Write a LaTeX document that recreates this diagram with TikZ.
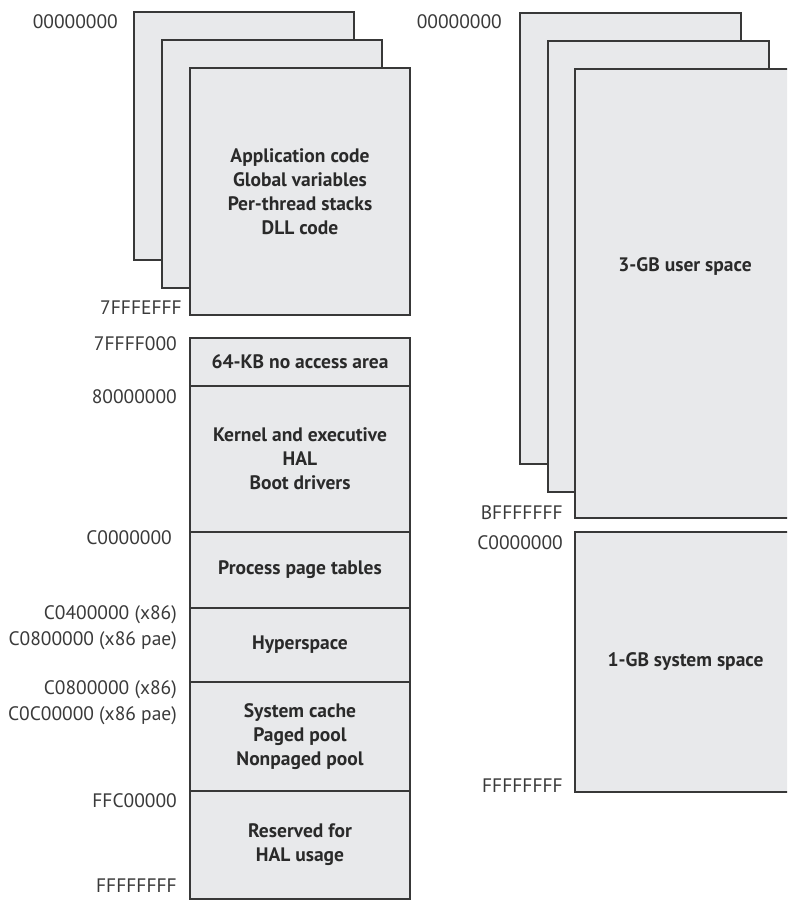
\documentclass[tikz,border=0pt]{standalone}
\usepackage{fontspec}
\setmainfont{PT Sans}
\definecolor{boxfill}{HTML}{E8E9EB}
\definecolor{edge}{HTML}{383838}
\definecolor{lbl}{HTML}{3A3A3A}
\definecolor{btext}{HTML}{2A2A2A}
\begin{document}
\begin{tikzpicture}[x=1pt,y=-1pt,
  page/.style={draw=edge, line width=1.5pt, fill=boxfill, rectangle, anchor=north west,
    inner sep=0pt, outer sep=0pt, font=\fontsize{19.5}{24}\selectfont\bfseries,
    align=center, text=btext},
  btxt/.style={font=\fontsize{19.5}{24}\selectfont\bfseries, align=center, text=btext, inner sep=0pt},
  addr/.style={font=\fontsize{19.5}{26}\selectfont, text=lbl, inner sep=0pt, anchor=east, align=right}
]
\clip (0,0) rectangle (787,901);
\fill[white] (0,0) rectangle (787,901);

% left user-space stack
\node[page, minimum width=220pt, minimum height=248pt] (p1) at (134,12) {};
\node[page, minimum width=220pt, minimum height=248pt] (p2) at (162,40) {};
\node[page, minimum width=220pt, minimum height=247pt] (p3) at (190,68)
  {Application code\\Global variables\\Per-thread stacks\\DLL code};

% left system-space stack
\node[page, minimum width=220pt, minimum height=48pt] (b1) at (190,338) {64-KB no access area};
\node[page, minimum width=220pt, minimum height=146pt] (b2) at (190,386) {Kernel and executive\\HAL\\Boot drivers};
\node[page, minimum width=220pt, minimum height=76pt] (b3) at (190,532) {Process page tables};
\node[page, minimum width=220pt, minimum height=74pt] (b4) at (190,608) {Hyperspace};
\node[page, minimum width=220pt, minimum height=109pt] (b5) at (190,682) {System cache\\Paged pool\\Nonpaged pool};
\node[page, minimum width=220pt, minimum height=108pt] (b6) at (190,791) {Reserved for\\HAL usage};

% right stack
\node[page, minimum width=221pt, minimum height=451pt] (q1) at (520,13) {};
\node[page, minimum width=221pt, minimum height=451pt] (q2) at (548,41) {};
\node[page, minimum width=221pt, minimum height=449pt] (q3) at (575,69) {};
\node[btxt] (q3t) at (685,266) {3-GB user space};
\node[page, minimum width=221pt, minimum height=260pt] (s1) at (575,532) {1-GB system space};

% address labels, left
\node[addr] (a1) at (118,22) {00000000};
\node[addr] (a2) at (182,308) {7FFFEFFF};
\node[addr] (a3) at (177,344) {7FFFF000};
\node[addr] (a4) at (177,397) {80000000};
\node[addr] (a5) at (172,538) {C0000000};
\node[addr] (a6) at (177,628) {C0400000 (x86)\\C0800000 (x86 pae)};
\node[addr] (a7) at (177,703) {C0800000 (x86)\\C0C00000 (x86 pae)};
\node[addr] (a8) at (177,801) {FFC00000};
\node[addr] (a9) at (177,886) {FFFFFFFF};

% address labels, right
\node[addr] (r1) at (502,22) {00000000};
\node[addr] (r2) at (563,513) {BFFFFFFF};
\node[addr] (r3) at (563,543) {C0000000};
\node[addr] (r4) at (563,786) {FFFFFFFF};
\end{tikzpicture}
\end{document}
